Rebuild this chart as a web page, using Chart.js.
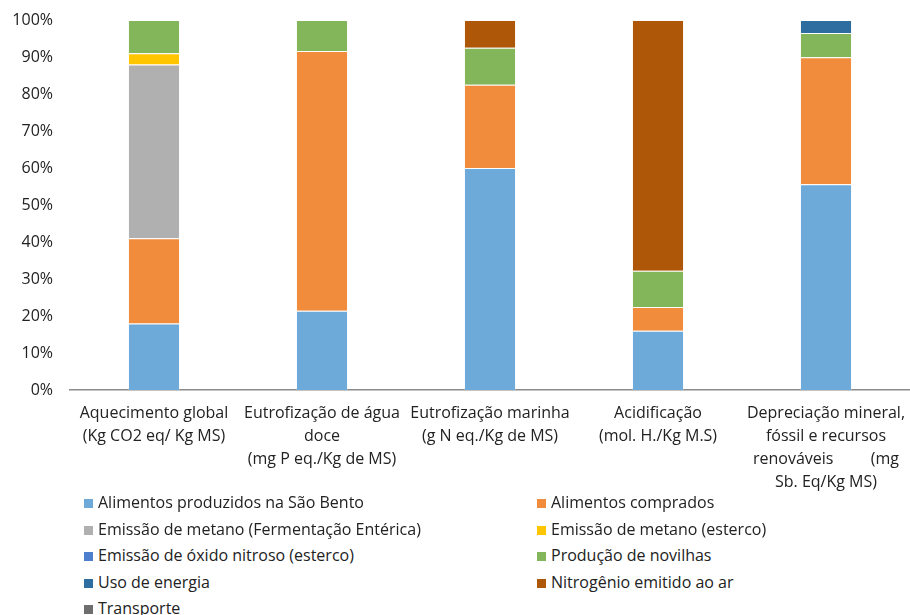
<!DOCTYPE html>
<html>
<head>
<meta charset="utf-8">
<script src="https://cdn.jsdelivr.net/npm/chart.js@4.4.1/dist/chart.umd.min.js"></script>
<style>
  body { margin: 0; background: #fff; font-family: "Open Sans", sans-serif; }
  #wrap { position: absolute; left: 0; top: 0; width: 910px; height: 506px; }
  #legend { position: absolute; left: 84px; top: 493px; width: 820px; font-size: 16px; color: #222; }
  .item { position: absolute; white-space: nowrap; line-height: 18px; }
  .box { display: inline-block; width: 9px; height: 9px; margin-right: 5px; vertical-align: 0px; }
</style>
</head>
<body>
<div id="wrap"><canvas id="chart"></canvas></div>
<div id="legend"></div>
<script>
// categorias (eixo x)
const categorias = [
    ['Aquecimento global', '(Kg CO2 eq/ Kg MS)'],
    ['Eutrofização de água', 'doce', '(mg P eq./Kg de MS)'],
    ['Eutrofização marinha', '(g N eq./Kg de MS)'],
    ['Acidificação', '(mol. H./Kg M.S)'],
    ['Depreciação mineral,', 'fóssil e recursos', 'renováveis         (mg', 'Sb. Eq/Kg MS)']
];

// contribuição de cada fonte (%)
const alimentosSaoBento = [18, 21.4, 60, 16, 55.6];
const alimentosComprados = [23, 70.2, 22.5, 6.4, 34.3];
const metanoEnterica = [47, 0, 0, 0, 0];
const metanoEsterco = [3, 0, 0, 0, 0];
const oxidoNitroso = [0, 0, 0, 0, 0];
const novilhas = [9, 8.4, 10, 9.8, 6.6];
const usoEnergia = [0, 0, 0, 0, 3.5];
const nitrogenioAr = [0, 0, 7.5, 67.8, 0];
const transporte = [0, 0, 0, 0, 0];

const yTicks = [0, 10, 20, 30, 40, 50, 60, 70, 80, 90, 100];

const series = [
    { label: 'Alimentos produzidos na São Bento', data: alimentosSaoBento, color: '#6DAADA' },
    { label: 'Alimentos comprados', data: alimentosComprados, color: '#F08C3C' },
    { label: 'Emissão de metano (Fermentação Entérica)', data: metanoEnterica, color: '#B0B0B0' },
    { label: 'Emissão de metano (esterco)', data: metanoEsterco, color: '#FFC600' },
    { label: 'Emissão de óxido nitroso (esterco)', data: oxidoNitroso, color: '#4E7FCF' },
    { label: 'Produção de novilhas', data: novilhas, color: '#83B55A' },
    { label: 'Uso de energia', data: usoEnergia, color: '#2E6DA0' },
    { label: 'Nitrogênio emitido ao ar', data: nitrogenioAr, color: '#AE5708' },
    { label: 'Transporte', data: transporte, color: '#6E6E6E' }
];

const fonte = "'Open Sans', sans-serif";

var ctx = document.getElementById('chart').getContext('2d');
var grafico = new Chart(ctx, {
    type: 'bar',
    data: {
        labels: categorias,
        datasets: series.map(function (s) {
            return {
                label: s.label,
                data: s.data,
                backgroundColor: s.color,
                borderColor: 'rgba(255,255,255,0.2)',
                borderWidth: 1,
                categoryPercentage: 1,
                barPercentage: 0.31
            };
        })
    },
    options: {
        responsive: true,
        maintainAspectRatio: false,
        animation: false,
        layout: { padding: { top: 20, right: 0, bottom: 0, left: 0 } },
        plugins: {
            legend: { display: false },
            tooltip: { enabled: false }
        },
        scales: {
            x: {
                stacked: true,
                afterFit: function (scale) { scale.paddingLeft = 0; scale.paddingRight = 0; },
                grid: { display: false, drawTicks: false },
                border: { display: true, color: '#8a8a8a', width: 1.5 },
                ticks: {
                    color: '#222',
                    font: { family: fonte, size: 16, lineHeight: '23px' },
                    padding: 12,
                    maxRotation: 0,
                    autoSkip: false
                }
            },
            y: {
                stacked: true,
                min: 0,
                max: 100,
                afterFit: function (scale) {
                    scale.width = 70;
                    scale.paddingTop = 0;
                    scale.paddingBottom = 0;
                },
                afterBuildTicks: function (scale) {
                    scale.ticks = yTicks.map(function (v) { return { value: v }; });
                },
                grid: { display: false, drawTicks: false },
                border: { display: false },
                ticks: {
                    color: '#222',
                    font: { family: fonte, size: 16 },
                    padding: 17,
                    callback: function (v) { return v + '%'; }
                }
            }
        }
    }
});

// legenda em duas colunas
var legenda = document.getElementById('legend');
series.forEach(function (s, i) {
    var div = document.createElement('div');
    div.className = 'item';
    div.style.left = (i % 2 === 0 ? 0 : 453) + 'px';
    div.style.top = (Math.floor(i / 2) * 26.5) + 'px';
    div.innerHTML = '<span class="box" style="background:' + s.color + '"></span>' + s.label;
    legenda.appendChild(div);
});
</script>
</body>
</html>
